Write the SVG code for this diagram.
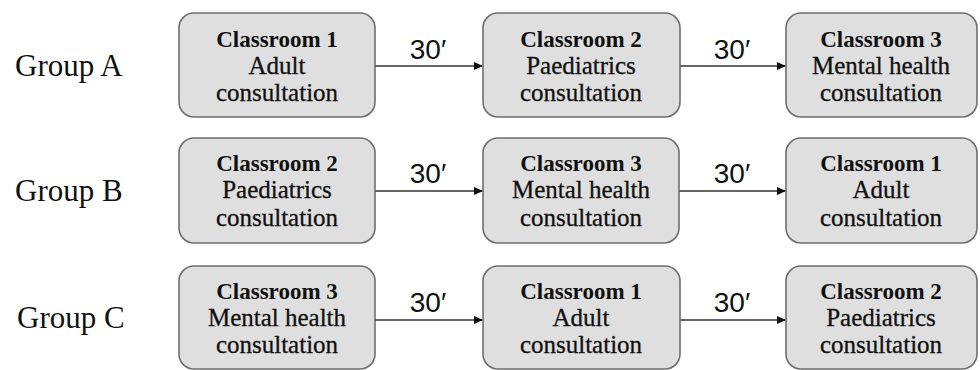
<svg xmlns="http://www.w3.org/2000/svg" width="980" height="370" viewBox="0 0 980 370">
<style>
.box{fill:#dfdfdf;stroke:#6e6e6e;stroke-width:1.6}
.t{font-family:"Liberation Serif","Times New Roman",serif;font-size:25px;fill:#111;text-anchor:middle;stroke:#111;stroke-width:0.3}
.b{font-weight:bold;font-size:23px;stroke-width:0}
.g{font-family:"Liberation Serif","Times New Roman",serif;font-size:31px;fill:#111}
.m{font-family:"Liberation Sans",sans-serif;font-size:28px;fill:#111;text-anchor:middle}
.c{stroke:#333;stroke-width:1.4;fill:none;marker-end:url(#ah)}
</style>
<defs>
<marker id="ah" markerWidth="10" markerHeight="10" refX="9" refY="5" orient="auto" markerUnits="userSpaceOnUse">
<path d="M0,1 L9,5 L0,9 Z" fill="#111"/>
</marker>
</defs>
<rect width="980" height="370" fill="#fff"/>
<g id="labels">
<text class="g" x="15" y="76">Group A</text>
<text class="g" x="15" y="201">Group B</text>
<text class="g" x="17" y="328">Group C</text>
</g>
<g id="connectors">
<line class="c" x1="375" y1="66" x2="483" y2="66"/>
<line class="c" x1="680" y1="66" x2="786" y2="66"/>
<line class="c" x1="375" y1="191" x2="483" y2="191"/>
<line class="c" x1="679" y1="191" x2="786" y2="191"/>
<line class="c" x1="375" y1="320" x2="483" y2="320"/>
<line class="c" x1="680" y1="320" x2="786" y2="320"/>
<text class="m" x="428" y="59">30′</text>
<text class="m" x="732" y="59">30′</text>
<text class="m" x="428" y="183">30′</text>
<text class="m" x="732" y="183">30′</text>
<text class="m" x="428" y="312">30′</text>
<text class="m" x="732" y="312">30′</text>
</g>
<g id="a1"><rect class="box" x="179" y="13" width="196" height="104" rx="15"/>
<text class="t b" x="277" y="47">Classroom 1</text><text class="t" x="277" y="74">Adult</text><text class="t" x="277" y="101">consultation</text></g>
<g id="a2"><rect class="box" x="483" y="13" width="197" height="104" rx="15"/>
<text class="t b" x="581" y="47">Classroom 2</text><text class="t" x="581" y="74">Paediatrics</text><text class="t" x="581" y="101">consultation</text></g>
<g id="a3"><rect class="box" x="786" y="13" width="191" height="104" rx="15"/>
<text class="t b" x="881" y="47">Classroom 3</text><text class="t" x="881" y="74">Mental health</text><text class="t" x="881" y="101">consultation</text></g>
<g id="b1"><rect class="box" x="179" y="138" width="196" height="105" rx="15"/>
<text class="t b" x="277" y="171">Classroom 2</text><text class="t" x="277" y="198">Paediatrics</text><text class="t" x="277" y="226">consultation</text></g>
<g id="b2"><rect class="box" x="483" y="138" width="196" height="105" rx="15"/>
<text class="t b" x="581" y="171">Classroom 3</text><text class="t" x="581" y="198">Mental health</text><text class="t" x="581" y="226">consultation</text></g>
<g id="b3"><rect class="box" x="786" y="138" width="191" height="105" rx="15"/>
<text class="t b" x="881" y="171">Classroom 1</text><text class="t" x="881" y="198">Adult</text><text class="t" x="881" y="226">consultation</text></g>
<g id="c1"><rect class="box" x="179" y="266" width="196" height="103" rx="15"/>
<text class="t b" x="277" y="299">Classroom 3</text><text class="t" x="277" y="326">Mental health</text><text class="t" x="277" y="353">consultation</text></g>
<g id="c2"><rect class="box" x="483" y="266" width="197" height="103" rx="15"/>
<text class="t b" x="581" y="299">Classroom 1</text><text class="t" x="581" y="326">Adult</text><text class="t" x="581" y="353">consultation</text></g>
<g id="c3"><rect class="box" x="786" y="266" width="191" height="103" rx="15"/>
<text class="t b" x="881" y="299">Classroom 2</text><text class="t" x="881" y="326">Paediatrics</text><text class="t" x="881" y="353">consultation</text></g>
</svg>
